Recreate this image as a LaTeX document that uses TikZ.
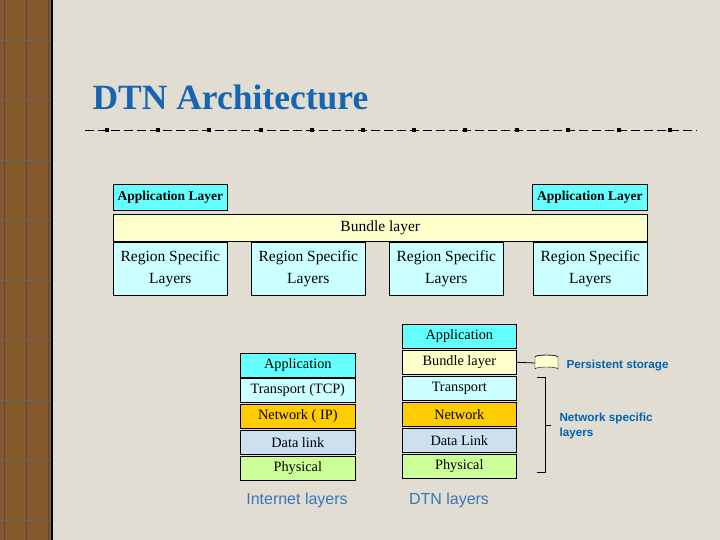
\documentclass[tikz,border=0pt]{standalone}
\usepackage{fontspec}
\setmainfont{Liberation Serif}
\newfontfamily\sans{Liberation Sans}
\begin{document}
\begin{tikzpicture}[x=1pt,y=-1pt,
  box/.style={draw=black,line width=0.6pt,anchor=north west,inner sep=0pt,align=center,font=\fontsize{15.5}{22}\selectfont},
  sbox/.style={draw=black,line width=0.6pt,anchor=north west,inner sep=0pt,align=center,font=\fontsize{14.3}{16}\selectfont},
  lbl/.style={text=blue!45!cyan!70!black,font=\sans\bfseries\fontsize{11.7}{15}\selectfont,align=left,anchor=west}]
\definecolor{bg}{HTML}{E2DDD2}
\definecolor{tcyan}{HTML}{66FFFF}
\definecolor{lcyan}{HTML}{CCFFFF}
\definecolor{lyel}{HTML}{FFFFCC}
\definecolor{orng}{HTML}{FFCC00}
\definecolor{dlink}{HTML}{CCE0F0}
\definecolor{phys}{HTML}{CCFF99}
\definecolor{ttl}{HTML}{1565B0}
\definecolor{lblue}{HTML}{3576B8}
\useasboundingbox (0,0) rectangle (720,540);
\fill[bg] (0,0) rectangle (720,540);
\fill[brown!70!black] (0,0) rectangle (52,540);
\foreach \x in {4,26,48} \draw[black!70,line width=1pt] (\x,0)--(\x,540);
\foreach \y in {40,100,160,220,280,340,400,460,520} \draw[black!60] (0,\y)--(52,\y);
\draw[black,line width=2pt] (52,0)--(52,540);
\node[anchor=west,text=ttl,font=\bfseries\fontsize{35.5}{38}\selectfont] (title) at (89,97) {DTN Architecture};
\draw[black,dash pattern=on 9pt off 4pt,line width=0.8pt] (85,130)--(697,130);
\foreach \i in {0,...,11} \fill[black] ({107+\i*51.2-2},128) rectangle ++(4,4);
% top diagram
\node[box,fill=tcyan,minimum width=114pt,minimum height=26pt,font=\bfseries\fontsize{13.5}{15}\selectfont] (al1) at (113,184) {Application Layer};
\node[box,fill=tcyan,minimum width=115pt,minimum height=26pt,font=\bfseries\fontsize{13.5}{15}\selectfont] (al2) at (532,184) {Application Layer};
\node[box,fill=lyel,minimum width=534pt,minimum height=27pt] (bl) at (113,214) {Bundle layer};
\foreach \x/\n in {113/r1,251/r2,389/r3,533/r4}
  \node[box,fill=lcyan,minimum width=114pt,minimum height=53pt] (\n) at (\x,242) {Region Specific\\Layers};
% internet stack
\foreach \y/\c/\t/\n in {353/tcyan/Application/ia,378/lcyan/Transport (TCP)/it,404/orng/Network ( IP)/in,430/dlink/Data link/id,456/phys/Physical/ip}
  \node[sbox,fill=\c,minimum width=115pt,minimum height=24pt] (\n) at (240,\y) {\t};
% DTN stack
\foreach \y/\c/\t/\n in {324/tcyan/Application/da,350/lyel/Bundle layer/db,376/lcyan/Transport/dt,402/orng/Network/dn,428/dlink/Data Link/dd,454/phys/Physical/dp}
  \node[sbox,fill=\c,minimum width=114pt,minimum height=24pt] (\n) at (402,\y) {\t};
% cylinder
\coordinate (cyl) at (535,363);
\draw[fill=lyel] (535,357) -- (535,369) arc[start angle=180,end angle=360,x radius=11.5,y radius=2] -- (558,357) arc[start angle=0,end angle=-180,x radius=11.5,y radius=2] -- cycle;
\draw (535,357) arc[start angle=180,end angle=360,x radius=11.5,y radius=2];
\draw[line width=0.8pt] (db.east) -- (cyl);
\node[lbl] (ps) at (563,365) {Persistent storage};
% brace
\draw (537,377) -- (545,377) -- (545,472) -- (537,472);
\draw (545,425) -- (551,425);
\node[lbl] (nsl) at (556,426) {Network specific\\layers};
\node[text=lblue,font=\sans\fontsize{16}{18}\selectfont] (il) at (297,500) {Internet layers};
\node[text=lblue,font=\sans\fontsize{16}{18}\selectfont] (dl) at (449,500) {DTN layers};
\end{tikzpicture}
\end{document}
